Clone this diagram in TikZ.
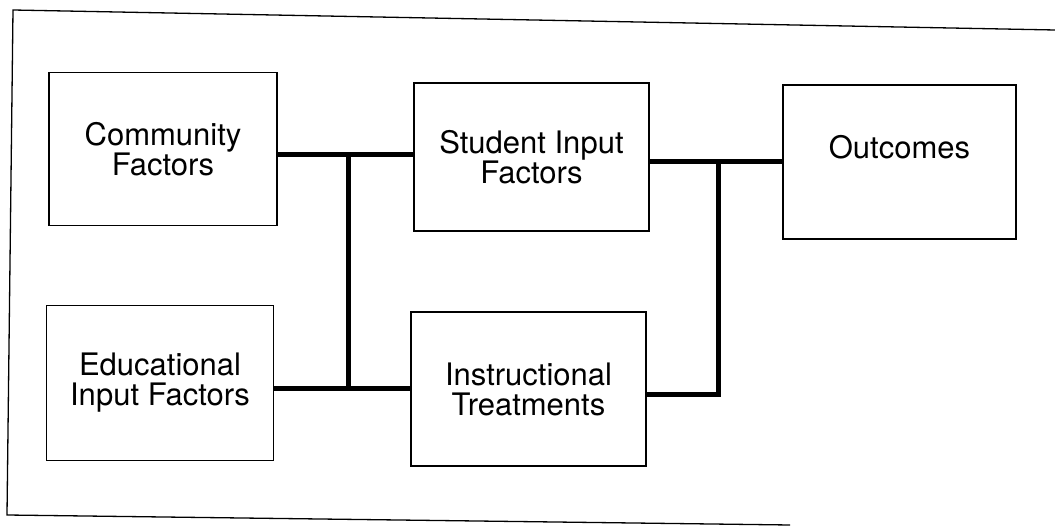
\documentclass[tikz,border=0pt]{standalone}
\usepackage{fontspec}
\setmainfont{TeX Gyre Heros}
\begin{document}
\begin{tikzpicture}[x=1pt,y=-1pt,
  box/.style={draw,line width=1.3pt,rectangle,align=center,inner sep=0pt,
    font=\fontsize{31}{30}\selectfont},
  link/.style={line width=5pt,line cap=butt,line join=miter},
  frame/.style={line width=1.3pt}]
\useasboundingbox (0,0) rectangle (1055,529);
% outer frame
\coordinate (f1) at (13,10);
\coordinate (f2) at (1055,30);
\coordinate (f3) at (7,515);
\coordinate (f4) at (790,525);
\draw[frame] (f2) -- (f1) -- (f3) -- (f4);
% boxes
\node[box,minimum width=228pt,minimum height=153pt] (comm) at (163,149) {Community\\Factors};
\node[box,minimum width=235pt,minimum height=148pt] (stud) at (531.5,157) {Student Input\\Factors};
\node[box,minimum width=233pt,minimum height=154pt] (outc) at (899.5,162) {Outcomes\\\phantom{X}};
\node[box,minimum width=227pt,minimum height=155pt] (educ) at (160,383) {Educational\\Input Factors};
\node[box,minimum width=235pt,minimum height=154pt] (inst) at (528.5,389) {Instructional\\Treatments};
% junctions
\coordinate (j1) at (348,155);
\coordinate (j2) at (348,388);
\coordinate (j3) at (718,162);
\coordinate (j4) at (718,394);
% connectors
\draw[link] (comm.east |- j1) -- (j1) -- (stud.west |- j1);
\draw[link] (j1) -- (j2);
\draw[link] (educ.east |- j2) -- (j2) -- (inst.west |- j2);
\draw[link] (stud.east |- j3) -- (j3) -- (outc.west |- j3);
\draw[link] (j3) -- (j4) -- (inst.east |- j4);
\end{tikzpicture}
\end{document}
